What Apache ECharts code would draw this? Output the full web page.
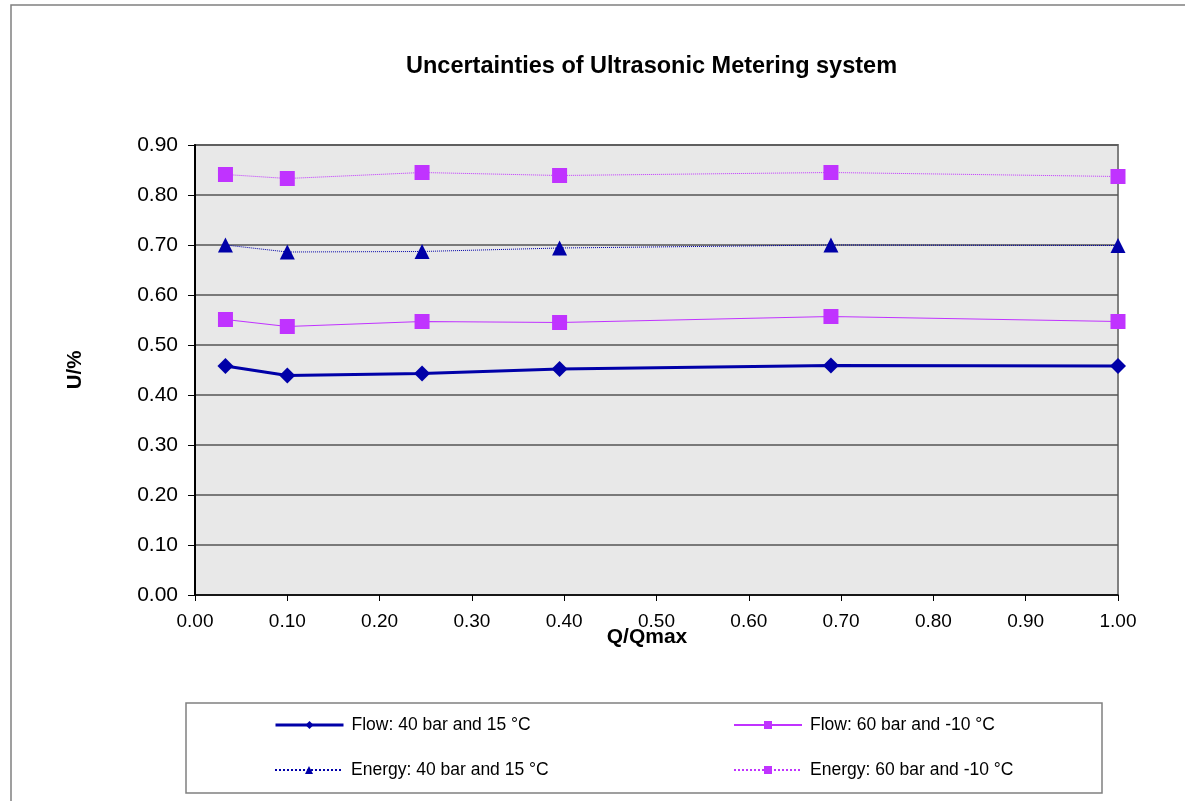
<!DOCTYPE html>
<html>
<head>
<meta charset="utf-8">
<title>Uncertainties of Ultrasonic Metering system</title>
<script src="https://cdn.jsdelivr.net/npm/echarts@6/dist/echarts.min.js"></script>
<style>
  html, body { margin: 0; padding: 0; background: #ffffff; }
  #chart { width: 1185px; height: 801px; }
</style>
</head>
<body>
<div id="chart"></div>
<script>
// Flow rate relative to maximum flow (Q/Qmax)
const qRatio = [0.033, 0.100, 0.246, 0.395, 0.689, 1.000];

// Expanded uncertainty U in percent for each operating condition
const flow40 = [0.458, 0.439, 0.443, 0.452, 0.459, 0.458];
const flow60 = [0.551, 0.537, 0.547, 0.545, 0.557, 0.547];
const energy40 = [0.700, 0.686, 0.687, 0.694, 0.700, 0.699];
const energy60 = [0.841, 0.833, 0.845, 0.839, 0.845, 0.837];

const seriesNames = [
  'Flow: 40 bar and 15 °C',
  'Flow: 60 bar and -10 °C',
  'Energy: 40 bar and 15 °C',
  'Energy: 60 bar and -10 °C'
];

const BLUE = '#0000a8';
const VIOLET = '#c033ff';
const FONT = '"Liberation Sans", Arial, sans-serif';

const pairs = (ys) => qRatio.map((x, i) => [x, ys[i]]);

const chart = echarts.init(document.getElementById('chart'), null, { renderer: 'canvas' });

// One legend block per entry so the 2 x 2 layout lines up in columns
function legendAt(name, left, top, extra) {
  return Object.assign({
    data: [name],
    left: left,
    top: top,
    orient: 'horizontal',
    itemWidth: 68,
    itemHeight: 10,
    padding: 0,
    selectedMode: false,
    textStyle: { fontFamily: FONT, fontSize: 17.5, color: '#000', padding: [0, 0, 0, 3] }
  }, extra || {});
}

const option = {
  backgroundColor: '#ffffff',
  animation: false,
  title: {
    text: 'Uncertainties of Ultrasonic Metering system',
    left: 406,
    top: 55,
    padding: 0,
    textStyle: { fontFamily: FONT, fontSize: 23.5, fontWeight: 'bold', color: '#000' }
  },
  grid: {
    left: 195,
    top: 145,
    right: 67,
    bottom: 206,
    show: true,
    backgroundColor: '#e8e8e8',
    borderColor: '#808080',
    borderWidth: 2
  },
  xAxis: {
    type: 'value',
    min: 0,
    max: 1,
    interval: 0.1,
    axisLine: { show: true, onZero: false, lineStyle: { color: '#000', width: 1.5 } },
    axisTick: { show: true, inside: false, length: 6, lineStyle: { color: '#000', width: 1 } },
    axisLabel: {
      margin: 17,
      fontFamily: FONT,
      fontSize: 19,
      color: '#000',
      formatter: (v) => v.toFixed(2)
    },
    splitLine: { show: false }
  },
  yAxis: {
    type: 'value',
    min: 0,
    max: 0.9,
    interval: 0.1,
    axisLine: { show: true, onZero: false, lineStyle: { color: '#000', width: 2 } },
    axisTick: { show: true, inside: false, length: 7, lineStyle: { color: '#000', width: 1 } },
    axisLabel: {
      margin: 17,
      fontFamily: FONT,
      fontSize: 21,
      color: '#000',
      formatter: (v) => v.toFixed(2)
    },
    splitLine: { show: true, lineStyle: { color: '#555555', width: 1.5 } }
  },
  legend: [
    legendAt(seriesNames[0], 274, 716, {
      lineStyle: { width: 3, color: 'inherit', type: 'inherit', opacity: 'inherit' }
    }),
    legendAt(seriesNames[1], 733, 716),
    legendAt(seriesNames[2], 274, 761),
    legendAt(seriesNames[3], 733, 761)
  ],
  graphic: [
    {
      type: 'rect',
      silent: true,
      z: -10,
      shape: { x: 11, y: 5, width: 1300, height: 900 },
      style: { fill: 'none', stroke: '#808080', lineWidth: 1.5 }
    },
    {
      type: 'rect',
      silent: true,
      shape: { x: 186, y: 703, width: 916, height: 90 },
      style: { fill: 'none', stroke: '#808080', lineWidth: 1.5 }
    },
    {
      type: 'text',
      silent: true,
      x: 647,
      y: 637,
      style: {
        text: 'Q/Qmax',
        fontFamily: FONT,
        fontSize: 21,
        fontWeight: 'bold',
        fill: '#000',
        align: 'center',
        verticalAlign: 'middle'
      }
    },
    {
      type: 'text',
      silent: true,
      x: 75,
      y: 370,
      rotation: Math.PI / 2,
      style: {
        text: 'U/%',
        fontFamily: FONT,
        fontSize: 20.5,
        fontWeight: 'bold',
        fill: '#000',
        align: 'center',
        verticalAlign: 'middle'
      }
    }
  ],
  series: [
    {
      name: seriesNames[0],
      type: 'line',
      data: pairs(flow40),
      clip: false,
      symbol: 'diamond',
      symbolSize: 16,
      itemStyle: { color: BLUE },
      lineStyle: { color: BLUE, width: 3, type: 'solid' },
      z: 5
    },
    {
      name: seriesNames[1],
      type: 'line',
      data: pairs(flow60),
      clip: false,
      symbol: 'rect',
      symbolSize: 15,
      itemStyle: { color: VIOLET },
      lineStyle: { color: VIOLET, width: 1.2, type: 'solid' },
      z: 4
    },
    {
      name: seriesNames[2],
      type: 'line',
      data: pairs(energy40),
      clip: false,
      symbol: 'triangle',
      symbolSize: 15,
      itemStyle: { color: BLUE },
      lineStyle: { color: BLUE, width: 1, type: 'dotted' },
      z: 4
    },
    {
      name: seriesNames[3],
      type: 'line',
      data: pairs(energy60),
      clip: false,
      symbol: 'rect',
      symbolSize: 15,
      itemStyle: { color: VIOLET },
      lineStyle: { color: VIOLET, width: 1, type: 'dotted' },
      z: 4
    }
  ]
};

chart.setOption(option);
</script>
</body>
</html>
